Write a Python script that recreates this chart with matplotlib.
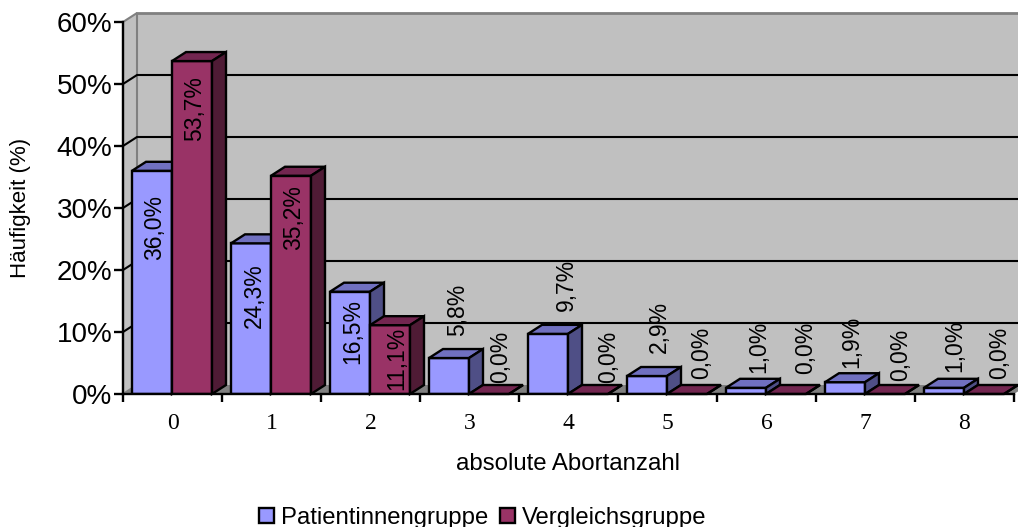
import matplotlib
matplotlib.use('Agg')
import matplotlib.pyplot as plt
from matplotlib.patches import Polygon, Patch

categories = ['0', '1', '2', '3', '4', '5', '6', '7', '8']
patienten = [36.0, 24.3, 16.5, 5.8, 9.7, 2.9, 1.0, 1.9, 1.0]
vergleich = [53.7, 35.2, 11.1, 0.0, 0.0, 0.0, 0.0, 0.0, 0.0]
yticks = [0, 10, 20, 30, 40, 50, 60]
series_names = ['Patientinnengruppe', 'Vergleichsgruppe']

# label centres in pixels, the original has them placed by hand
pat_label_px = [(155, 228), (254, 296), (353, 331), (458, 310), (566, 285),
                (659, 327), (759, 347), (852, 342), (955, 346)]
ver_label_px = [(195, 109), (294, 218), (397, 358), (501, 357), (609, 357),
                (702, 353), (806, 348), (901, 355), (1000, 353)]

BLUE = ('#9999FF', '#7070C0', '#4F4F86')
RED = ('#993366', '#732650', '#4F1B35')
WALL = '#C0C0C0'
EDGE = '#808080'
LW = 1.7

plt.rcParams['font.family'] = ['Liberation Sans', 'DejaVu Sans']

W, H = 1018, 527
fig = plt.figure(figsize=(W / 100, H / 100), dpi=100)
ax = fig.add_axes([123 / W, 1 - 394 / H, 891 / W, 372 / H])
ax.set_xlim(0, 9)
ax.set_ylim(0, 60)
ax.patch.set_visible(False)

# depth of the fake 3d box, in data units
dx = 14 / 99
dy = 9 / 6.2
bar_w = 40 / 99
gap = 9 / 99

# walls and floor
ax.add_patch(Polygon([(dx, dy), (9 + dx, dy), (9 + dx, 60 + dy), (dx, 60 + dy)],
                     fc=WALL, ec='none', clip_on=False, zorder=1))
ax.add_patch(Polygon([(0, 0), (dx, dy), (dx, 60 + dy), (0, 60)],
                     fc=WALL, ec=EDGE, lw=1.5, clip_on=False, zorder=1))
ax.add_patch(Polygon([(0, 0), (9, 0), (9 + dx, dy), (dx, dy)],
                     fc=EDGE, ec='none', clip_on=False, zorder=1))
ax.plot([dx, 9 + dx], [60 + dy, 60 + dy], color=EDGE, lw=2,
        clip_on=False, zorder=2)
for v in yticks[1:-1]:
    ax.plot([0, dx, 9 + dx], [v, v + dy, v + dy], color='black', lw=1.5,
            clip_on=False, zorder=2)


def bar3d(x, v, cols, z):
    ax.bar(x, v, bar_w, align='edge', color=cols[0], edgecolor='black',
           linewidth=LW, zorder=z)
    ax.add_patch(Polygon([(x, v), (x + bar_w, v), (x + bar_w + dx, v + dy),
                          (x + dx, v + dy)], fc=cols[1], ec='black', lw=LW,
                         clip_on=False, zorder=z))
    ax.add_patch(Polygon([(x + bar_w, 0), (x + bar_w + dx, dy),
                          (x + bar_w + dx, v + dy), (x + bar_w, v)],
                         fc=cols[2], ec='black', lw=LW, clip_on=False, zorder=z))


def value_label(pos, v):
    txt = f'{v:.1f}%'.replace('.', ',')
    ax.text((pos[0] - 123) / 99, (394 - pos[1]) / 6.2, txt, rotation=90,
            ha='center', va='center', fontsize=16.5, zorder=50, clip_on=False)


z = 5
for i in range(len(categories)):
    x1 = i + gap
    x2 = x1 + bar_w
    bar3d(x1, patienten[i], BLUE, z)
    bar3d(x2, vergleich[i], RED, z + 1)
    z += 2
for i in range(len(categories)):
    value_label(pat_label_px[i], patienten[i])
    value_label(ver_label_px[i], vergleich[i])

for s in ['top', 'right']:
    ax.spines[s].set_visible(False)
for s in ['left', 'bottom']:
    ax.spines[s].set_linewidth(LW)
    ax.spines[s].set_zorder(60)

ax.set_yticks(yticks)
ax.set_yticklabels([f'{v}%' for v in yticks], fontsize=20)
ax.tick_params(axis='y', length=6.5, width=LW, pad=1)
ax.set_xticks(range(10))
ax.set_xticklabels([''] * 10)
ax.tick_params(axis='x', length=6, width=LW)
ax.set_xticks([i + 0.5 for i in range(9)], minor=True)
ax.set_xticklabels(categories, minor=True, family='Liberation Serif', fontsize=17)
ax.tick_params(axis='x', which='minor', length=0, pad=13.5)

fig.text(568 / W, 1 - 464 / H, 'absolute Abortanzahl', ha='center', va='center', fontsize=17.3)
fig.text(21 / W, 1 - 208 / H, 'Häufigkeit (%)', rotation=90, ha='center', va='center', fontsize=16)

handles = [Patch(fc=BLUE[0], ec='black', lw=LW), Patch(fc=RED[0], ec='black', lw=LW)]
fig.legend(handles, series_names, loc='center', bbox_to_anchor=(483 / W, 1 - 518 / H),
           ncol=2, frameon=False, fontsize=17.2, handlelength=0.62, handleheight=0.62,
           handletextpad=0.3, columnspacing=0.5, borderpad=0)

fig.savefig('out.png', dpi=100)
